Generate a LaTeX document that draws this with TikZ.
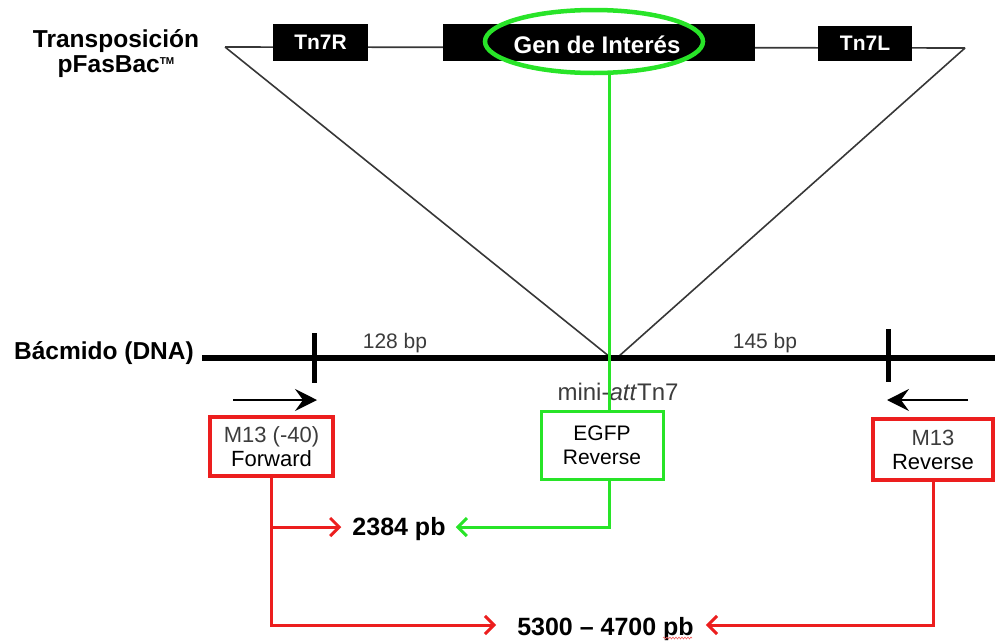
\documentclass[tikz,border=0pt]{standalone}
\usepackage{fontspec}
\setmainfont{Liberation Sans}
\usetikzlibrary{shapes.geometric,arrows.meta,decorations.pathmorphing}
\definecolor{gfp}{RGB}{40,228,40}
\definecolor{rd}{RGB}{236,30,30}
\definecolor{dgray}{RGB}{60,60,60}
\definecolor{lgray}{RGB}{55,55,55}
\newcommand\myfs[1]{\fontsize{#1}{#1}\selectfont}
\begin{document}
\begin{tikzpicture}[x=1pt,y=-1pt,
  blk/.style={fill=black,text=white,inner sep=0pt,font=\myfs{21}\bfseries},
  redbox/.style={draw=rd,line width=3.5pt,align=center,inner sep=0pt,font=\fontsize{22}{24}\selectfont},
  greenbox/.style={draw=gfp,line width=3pt,align=center,inner sep=0pt,font=\fontsize{21}{24}\selectfont},
  thinline/.style={draw=lgray,line width=1.6pt},
  dnaline/.style={draw=black,line width=6.5pt},
  tickline/.style={draw=black,line width=5pt},
  primer/.style={draw=black,line width=1.5pt,-{Stealth[length=22pt,width=22pt,inset=8pt]}},
  redarrow/.style={draw=rd,line width=3pt,-{Straight Barb[length=9pt,width=18pt,line width=3pt]}},
  greenarrow/.style={draw=gfp,line width=3pt,-{Straight Barb[length=9pt,width=18pt,line width=3pt]}},
  greenline/.style={draw=gfp,line width=3pt},
  redline/.style={draw=rd,line width=3pt},
  lbl/.style={inner sep=0pt,anchor=base},
  bigbold/.style={font=\myfs{24.5}\bfseries},
  bplbl/.style={inner sep=0pt,text=dgray,font=\myfs{21}},
  pblbl/.style={inner sep=0pt,anchor=base,font=\myfs{25}\bfseries}
]
\useasboundingbox (0,0) rectangle (995,640);

% coordinates
\coordinate (tl) at (225,47);
\coordinate (tr) at (965,48);
\coordinate (apexL) at (610,357);
\coordinate (apexR) at (618,357);
\coordinate (bl) at (202,358);
\coordinate (br) at (995,358);
\coordinate (t1a) at (314,333);
\coordinate (t1b) at (314,383);
\coordinate (t2a) at (888,329);
\coordinate (t2b) at (888,382);
\coordinate (fa1) at (233,400);
\coordinate (fa2) at (317,400);
\coordinate (ra1) at (968,400);
\coordinate (ra2) at (887,400);
\coordinate (gv) at (609,0);

% top construct
\draw[thinline] (tl) -- (tr);
\draw[thinline] (tl) -- (apexL);
\draw[thinline] (tr) -- (apexR);

\node[lbl,bigbold] (tp1) at (116,47) {Transposición};
\node[lbl,bigbold] (tp2) at (116,72) {pFasBac\raisebox{8pt}{\myfs{10}\bfseries TM}};

\node[blk,minimum width=95pt,minimum height=37pt] (tn7r) at (320.5,42.5) {Tn7R};
\node[blk,minimum width=312pt,minimum height=37pt] (gen) at (599,42.5) {};
\node[blk,minimum width=94pt,minimum height=35pt] (tn7l) at (865,43.5) {Tn7L};
\node[draw=gfp,line width=4.5pt,ellipse,minimum width=218pt,minimum height=63pt,inner sep=0pt] (ell) at (594,41.5) {};
\node[inner sep=0pt,text=white,font=\myfs{24}\bfseries] (gentxt) at (597,45) {Gen de Interés};

% bacmid
\node[inner sep=0pt,anchor=base east,bigbold] (bac) at (194,359) {Bácmido (DNA)};
\draw[dnaline] (bl) -- (br);
\draw[tickline] (t1a) -- (t1b);
\draw[tickline] (t2a) -- (t2b);
\node[bplbl] (bp128) at (395,343) {128 bp};
\node[bplbl] (bp145) at (765,343) {145 bp};
\node[inner sep=0pt,text=dgray,font=\myfs{24}] (att) at (618,392) {mini-\textit{att}Tn7};

% primer arrows
\draw[primer] (fa1) -- (fa2);
\draw[primer] (ra1) -- (ra2);

% primer boxes
\node[redbox,minimum width=123pt,minimum height=59pt] (fwd) at (271.5,446.5) {{\color{dgray}M13 (-40)}\\Forward};
\node[greenbox,minimum width=122pt,minimum height=68pt] (egfp) at (602,445) {EGFP\\Reverse};
\node[redbox,minimum width=120pt,minimum height=61pt] (rev) at (933,449.5) {{\color{dgray}M13}\\Reverse};

% green line from gene to EGFP
\draw[greenline] (ell.south -| gv) -- (egfp.north -| gv);

% product labels
\node[pblbl] (p2384) at (399,535) {2384 pb};
\node[pblbl] (p5300) at (605.5,635) {5300 – 4700 pb};
\draw[rd!70,line width=0.6pt,decorate,decoration={snake,amplitude=1pt,segment length=3pt}] (663,638) -- (692,638);

% product connectors
\draw[redarrow] (fwd.south) |- ([shift={(-11pt,8pt)}]p2384.base west);
\draw[greenarrow] (egfp.south -| gv) |- ([shift={(10pt,8pt)}]p2384.base east);
\draw[redarrow] (fwd.south) |- ([shift={(-21pt,10pt)}]p5300.base west);
\draw[redarrow] (rev.south) |- ([shift={(12pt,10pt)}]p5300.base east);
\end{tikzpicture}
\end{document}
